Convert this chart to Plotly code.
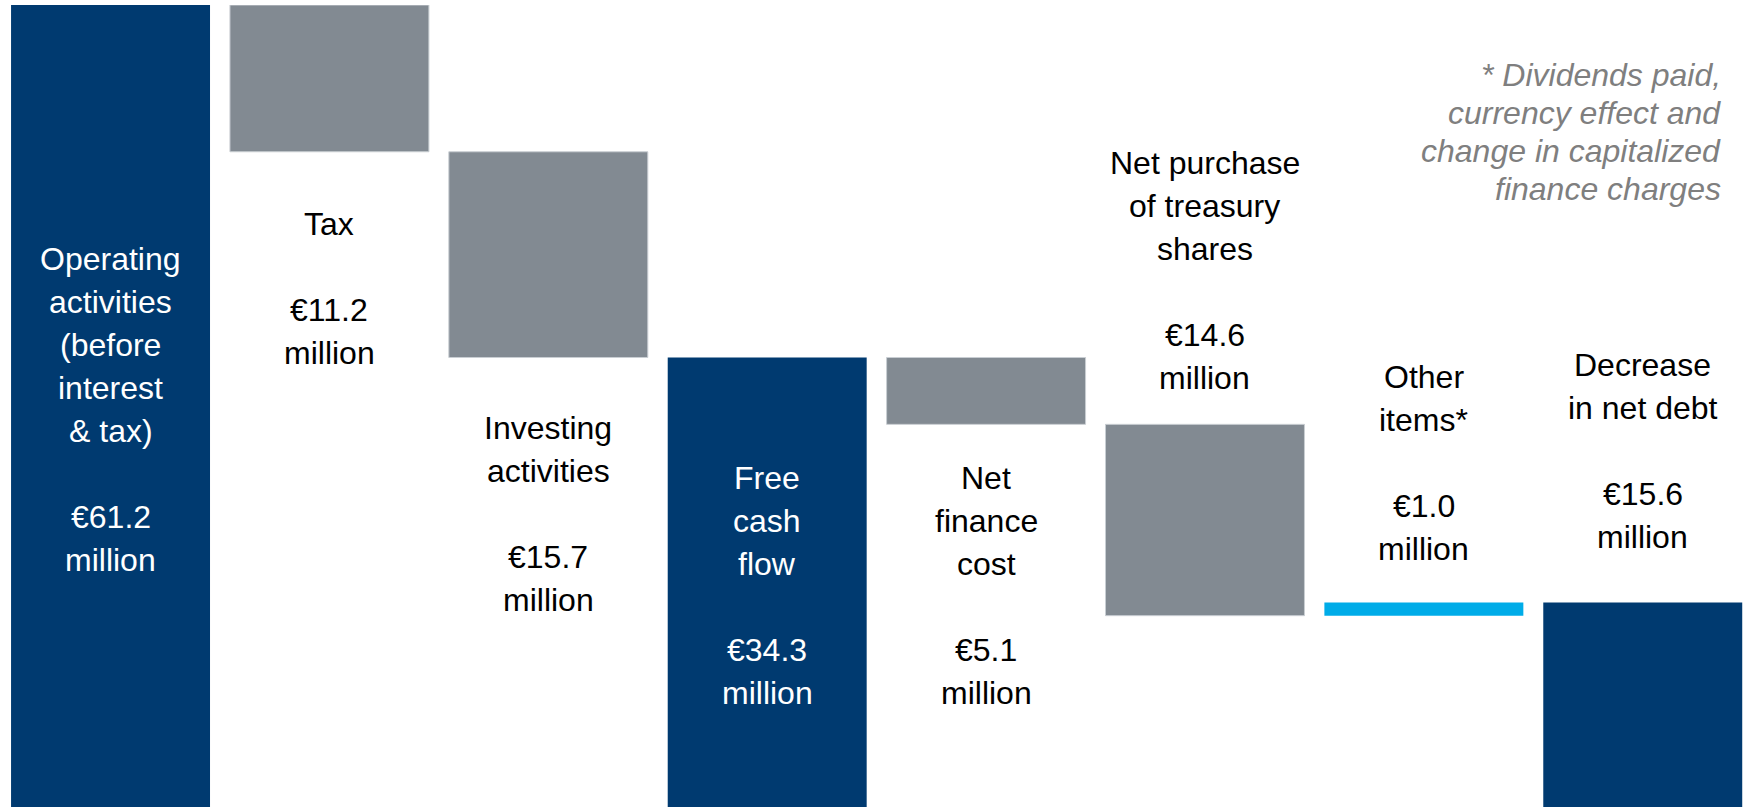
import plotly.graph_objects as go

categories = ["Operating activities", "Tax", "Investing activities", "Free cash flow",
              "Net finance cost", "Net purchase of treasury shares", "Other items", "Decrease in net debt"]
values = [61.2, -11.2, -15.7, 34.3, -5.1, -14.6, 1.0, 15.6]
measures = ["absolute", "relative", "relative", "total", "relative", "relative", "relative", "total"]
label_lines = [
    ["Operating", "activities", "(before", "interest", "& tax)", "", "€61.2", "million"],
    ["Tax", "", "€11.2", "million"],
    ["Investing", "activities", "", "€15.7", "million"],
    ["Free", "cash", "flow", "", "€34.3", "million"],
    ["Net", "finance", "cost", "", "€5.1", "million"],
    ["Net purchase", "of treasury", "shares", "", "€14.6", "million"],
    ["Other", "items*", "", "€1.0", "million"],
    ["Decrease", "in net debt", "", "€15.6", "million"],
]
label_colors = ["white", "black", "black", "white", "black", "black", "black", "black"]
footnote_lines = ["* Dividends paid,", "currency effect and", "change in capitalized", "finance charges"]

# text placement (pixels from top of the 807 px figure)
label_first_px = [259, 224, 428, 478, 478, 163, 377, 365]
LINE_PX = 43
foot_first_px = 75
FOOT_LINE_PX = 38

NAVY = "#003A70"
GRAY = "#828A92"
CYAN = "#00ACE8"
FONT = "Liberation Sans, Arial, sans-serif"

H, TOP = 807, 5
YMAX = 61.2
px_per_unit = (H - TOP) / YMAX


def px_to_y(px):
    return (H - px) / px_per_unit


x = list(range(len(categories)))

fig = go.Figure(go.Waterfall(
    x=x,
    y=values,
    measure=measures,
    totals=dict(marker=dict(color=NAVY, line=dict(width=0))),
    decreasing=dict(marker=dict(color=GRAY, line=dict(color="#C9CED3", width=1))),
    increasing=dict(marker=dict(color=CYAN, line=dict(width=0))),
    connector=dict(visible=False),
    textposition="none",
    hoverinfo="skip",
    hovertext=categories,
))

annotations = []
for i, (lines, first, c) in enumerate(zip(label_lines, label_first_px, label_colors)):
    for k, line in enumerate(lines):
        if not line:
            continue
        annotations.append(dict(
            x=i, y=px_to_y(first + k * LINE_PX), xref="x", yref="y", text=line,
            showarrow=False, xanchor="center", yanchor="middle", align="center",
            font=dict(family=FONT, size=32, color=c),
        ))
for k, line in enumerate(footnote_lines):
    annotations.append(dict(
        x=1723 / 1743, y=px_to_y(foot_first_px + k * FOOT_LINE_PX), xref="paper", yref="y",
        text="<i>" + line + "</i>", showarrow=False, xanchor="right", yanchor="middle",
        align="right", font=dict(family=FONT, size=32, color="#7F7F7F"),
    ))

fig.update_layout(
    width=1743, height=807,
    margin=dict(l=0, r=0, t=TOP, b=0),
    plot_bgcolor="white", paper_bgcolor="white",
    waterfallgap=0.091,
    showlegend=False,
    xaxis=dict(range=[-0.505, 7.458], visible=False, fixedrange=True),
    yaxis=dict(range=[0, YMAX], visible=False, fixedrange=True),
    annotations=annotations,
)

fig.write_html("out.html", config=dict(displayModeBar=False),
               post_script="document.body.style.margin='0px';document.body.style.overflow='hidden';")
